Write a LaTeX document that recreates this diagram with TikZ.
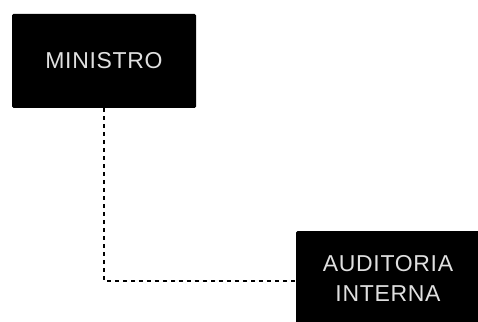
\documentclass[tikz,border=0pt]{standalone}
\usepackage{fontspec}
\setmainfont{Liberation Sans}
\usepackage{tikz}

\tikzset{
	box/.style={shape=rectangle,fill=black,text=white!88!black,minimum width=184pt,minimum height=94pt,
		rounded corners=1.5pt,align=center,font=\fontsize{23}{30}\selectfont\addfontfeature{LetterSpace=3}},
	link/.style={draw=black,line width=1.3pt,dash pattern=on 4pt off 4pt}
}

\begin{document}
\begin{tikzpicture}[x=1pt,y=1pt]
	\useasboundingbox (0,0) rectangle (478,321);
	\begin{scope}
	\clip (0,0) rectangle (478,321);
	\node[box] (ministro)  at (104, 260) {MINISTRO};
	\node[box] (auditoria) at (388, 43)  {AUDITORIA\\INTERNA};

	\draw[link] (ministro.south) |- ([yshift=-3pt]auditoria.west);
	\end{scope}
\end{tikzpicture}
\end{document}
